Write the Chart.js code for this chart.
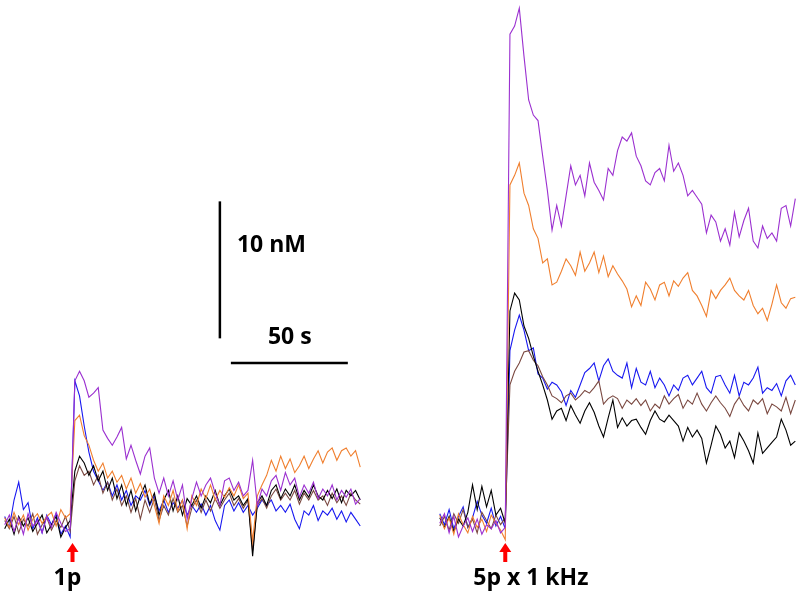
<!DOCTYPE html>
<html>
<head>
<meta charset="utf-8">
<script src="https://cdn.jsdelivr.net/npm/chart.js@4.4.1/dist/chart.umd.min.js"></script>
<style>
  body { margin: 0; background: #fff; }
  #wrap { width: 800px; height: 600px; }
</style>
</head>
<body>
<div id="wrap"><canvas id="traces" width="800" height="600"></canvas></div>
<script>
// time step of the sampled traces (s) and where each panel starts on the shared time axis
const step = 2;
const leftStart = 2;
const rightStart = 188;
const stimTimes = [31, 216];
const stimLabels = ['1p', '5p x 1 kHz'];

// left panel: single pulse (nM above baseline)
const leftPurple = [-0.3, 0.4, -0.8, 0.2, -1.0, 0.5, -0.4, 0.0, -0.9, 0.3, -0.5, 0.6, -0.2, -0.8, -0.6,
  10.2, 10.9, 10.2, 9.0, 9.3, 9.7, 6.6, 6.0, 5.5, 6.1, 6.8, 4.5, 5.5, 4.4, 3.4, 4.7, 5.3, 3.1, 2.0, 3.1,
  1.8, 2.9, 1.5, 2.6, 0.1, 1.6, 2.8, 1.8, 2.6, 3.1, 2.0, 1.1, 2.9, 3.1, 2.2, 2.8, 1.8, 2.2, 4.4, 1.1,
  2.3, 1.8, 2.9, 3.3, 2.2, 3.5, 2.6, 3.1, 1.7, 2.6, 2.0, 2.8, 1.6, 2.3, 1.8, 2.6, 1.5, 2.2, 1.7, 2.3, 1.2, 1.6];
const leftOrange = [0.2, -0.5, 0.6, -0.3, 0.4, -0.7, 0.1, 0.5, -0.2, 0.3, 0.6, -0.4, 0.8, 0.2, 0.5,
  7.3, 7.7, 6.2, 5.5, 4.4, 3.6, 4.2, 3.1, 3.6, 2.8, 3.3, 2.3, 3.1, 2.0, 2.7, 1.7, 2.3, 1.1, -0.2, 1.8,
  1.1, 2.2, 0.7, 1.5, -0.6, 1.8, 1.1, 2.3, 1.6, 2.6, 1.5, 2.2, 1.7, 2.4, 1.8, 2.6, 1.6, 2.0, -1.5, 1.8,
  2.6, 3.3, 4.4, 3.6, 4.7, 3.8, 4.5, 3.5, 4.0, 4.7, 3.8, 4.5, 5.1, 4.2, 5.0, 5.3, 4.4, 5.1, 5.3, 4.7, 5.1, 3.9];
const leftBlack = [-0.6, 0.1, -1.0, 0.3, -0.4, 0.2, -0.8, -0.2, 0.4, -0.9, -0.3, 0.3, -1.2, -0.5, 0.0,
  3.6, 4.7, 4.2, 3.3, 4.0, 2.9, 3.6, 2.2, 3.1, 1.6, 2.6, 1.1, 2.2, 0.7, 1.8, 2.6, 1.2, 2.0, 0.4, 1.5,
  2.2, 0.7, 1.8, 0.4, 1.6, 1.1, 1.8, 0.9, 1.8, 1.3, 2.2, 1.1, 1.8, 2.3, 1.5, 1.8, 1.1, 1.6, -2.6, 1.3,
  1.8, 1.1, 2.2, 2.6, 1.6, 2.3, 1.8, 2.6, 1.5, 2.2, 1.7, 2.6, 1.8, 1.5, 2.2, 1.6, 2.3, 1.3, 2.2, 1.8, 2.2, 1.5];
const leftBrown = [0.0, -0.6, 0.3, -0.9, 0.1, -0.4, 0.5, -1.0, -0.3, 0.2, -0.7, 0.0, -0.5, 0.3, -0.8,
  2.9, 4.0, 3.3, 3.6, 2.6, 3.3, 2.0, 2.8, 1.5, 2.3, 1.1, 1.8, 0.6, 1.6, 0.1, 1.5, 0.6, 1.6, 0.0, 1.1,
  0.4, 1.6, 0.6, 1.1, -0.4, 0.9, 1.5, 0.6, 1.5, 0.7, 1.6, 0.9, 1.5, 2.0, 1.1, 1.6, 0.9, 1.5, -2.2, 1.1,
  1.6, 0.9, 1.8, 2.3, 1.5, 2.0, 1.5, 2.2, 1.2, 2.0, 1.5, 2.2, 1.5, 1.8, 1.1, 2.0, 1.3, 1.8, 1.1, 2.0, 1.5, 1.2];
const leftBlue = [0.3, -0.5, 1.5, 2.8, 0.8, 1.3, -0.6, 0.2, -0.9, 0.4, -0.3, 0.5, -1.0, -0.4, -1.2,
  10.2, 9.1, 6.9, 5.0, 3.6, 2.9, 2.2, 2.8, 1.8, 2.6, 1.5, 2.2, 1.1, 1.8, 1.5, 2.2, 1.1, 1.8, 0.7, 1.5,
  0.6, 1.3, 0.9, 1.5, 0.4, 1.1, 0.6, 1.2, 0.4, 1.1, 0.0, -0.7, 1.1, 1.5, 0.7, 1.3, 0.6, 1.1, 0.4, 0.9,
  1.5, 1.1, 1.5, 0.7, 1.1, 0.6, 1.2, 0.1, -0.6, 0.7, 0.4, 1.1, 0.0, 0.7, 0.4, 0.9, 0.1, 0.7, -0.1, 0.6, 0.1, -0.4];

// right panel: 5 pulses at 1 kHz (nM above baseline)
const rightPurple = [-0.2, 0.5, -0.9, 0.3, -1.2, -0.4, 0.2, -0.8, 0.1, -1.0, -0.3, -0.6, 0.0, -0.9, -0.5,
  35.5, 36.1, 37.4, 33.9, 30.7, 29.6, 29.2, 26.6, 24.1, 21.2, 23.0, 21.5, 23.7, 25.9, 24.5, 25.2, 23.7, 26.1, 24.7, 24.1,
  23.4, 25.7, 25.2, 27.0, 28.0, 27.7, 28.3, 26.6, 25.9, 24.8, 24.5, 25.4, 25.7, 24.8, 27.4, 25.5, 26.1, 25.2, 23.7, 24.1,
  23.6, 23.1, 21.0, 22.3, 21.8, 20.4, 21.3, 20.1, 22.5, 20.7, 21.9, 22.8, 20.4, 19.9, 21.5, 20.6, 21.0, 20.4, 22.8, 23.0, 21.5, 23.5];
const rightOrange = [0.4, -0.6, 0.2, -1.0, 0.5, -0.3, -0.9, 0.3, -0.5, 0.1, -0.8, 0.4, -0.2, -0.7, -1.4,
  24.5, 25.2, 26.1, 23.9, 23.0, 21.3, 20.6, 18.8, 19.1, 17.2, 17.4, 18.2, 19.1, 18.6, 17.9, 19.6, 18.2, 18.8, 19.6, 18.1,
  19.3, 17.8, 18.6, 18.0, 17.5, 16.9, 15.6, 16.4, 15.7, 17.4, 16.9, 16.1, 17.2, 17.4, 16.4, 17.5, 17.1, 17.7, 18.1, 16.8,
  16.4, 15.7, 14.9, 16.8, 16.2, 16.8, 17.2, 17.7, 16.8, 16.4, 16.1, 16.8, 15.7, 15.1, 15.5, 14.6, 15.8, 17.2, 15.9, 15.5, 16.2, 16.3];
const rightBlack = [0.2, -0.5, 0.3, -0.8, 0.1, -0.4, 0.6, 2.6, 0.8, 2.5, 1.0, 2.2, 0.4, 0.9, -0.2,
  15.3, 16.6, 16.1, 14.2, 13.3, 12.0, 10.9, 9.9, 8.8, 7.4, 8.0, 8.2, 7.3, 8.4, 7.7, 7.1, 8.0, 8.6, 7.9, 6.9,
  6.1, 7.5, 8.8, 6.8, 7.5, 6.9, 7.3, 7.4, 6.8, 6.3, 7.3, 8.0, 7.4, 7.2, 7.7, 7.3, 6.9, 5.8, 6.8, 6.1,
  6.6, 6.0, 4.2, 5.5, 6.9, 6.3, 5.3, 5.8, 4.6, 6.4, 5.8, 5.1, 4.2, 6.4, 4.9, 5.3, 5.7, 6.1, 7.4, 6.6, 5.5, 5.8];
const rightBrown = [-0.4, 0.3, -0.7, 0.5, -0.2, 0.8, -0.5, 0.1, -0.9, 0.6, 0.0, -0.6, 0.4, -0.3, 0.2,
  9.9, 10.9, 11.5, 12.3, 12.4, 11.7, 11.3, 10.5, 9.9, 9.1, 8.9, 8.6, 9.1, 9.3, 8.8, 9.1, 9.5, 9.3, 9.7, 10.2,
  8.5, 8.9, 9.1, 8.9, 8.2, 8.8, 8.5, 8.9, 8.4, 8.8, 8.0, 8.5, 8.2, 9.1, 8.5, 8.9, 9.2, 8.2, 8.8, 8.5,
  9.3, 8.5, 8.0, 8.6, 9.1, 8.6, 8.2, 7.6, 8.5, 9.0, 8.4, 8.0, 8.8, 8.5, 8.9, 7.8, 8.5, 8.3, 8.0, 9.0, 7.8, 8.8];
const rightBlue = [0.5, -0.3, 0.8, -0.6, 0.3, 1.0, -0.5, 0.2, 1.4, 0.4, -0.2, 0.9, -0.4, 0.3, -0.6,
  12.4, 13.9, 15.0, 13.9, 12.4, 12.6, 10.7, 10.4, 9.6, 10.1, 9.9, 9.4, 8.4, 9.5, 9.0, 9.9, 10.8, 11.1, 11.5, 10.2,
  11.3, 11.8, 10.9, 10.6, 10.4, 11.5, 9.7, 11.1, 10.1, 9.9, 10.9, 9.7, 10.4, 9.9, 9.1, 9.9, 9.5, 10.4, 10.6, 9.9,
  10.4, 10.9, 9.7, 9.3, 10.5, 10.6, 9.9, 9.3, 10.6, 9.1, 10.1, 9.9, 10.4, 11.2, 9.3, 9.7, 9.5, 10.0, 9.1, 10.2, 10.6, 9.9];

// scale bars: 10 nM and 50 s
const barNM = { t: 94, from: 13.3, to: 23.3 };
const barSec = { level: 11.5, from: 98.7, to: 148.7 };

const colors = {
  purple: '#9b30d0',
  orange: '#f07f2e',
  black: '#000000',
  brown: '#7a4840',
  blue: '#1818f0'
};

function toPoints(values, start) {
  return values.map((v, i) => ({ x: start + i * step, y: v }));
}

function trace(values, start, color) {
  return {
    data: toPoints(values, start),
    borderColor: color,
    borderWidth: 1.1,
    pointRadius: 0,
    tension: 0,
    fill: false
  };
}

// draws the stimulus arrows and the text labels
const annotations = {
  id: 'annotations',
  afterDraw(chart) {
    const {ctx, scales: {x, y}} = chart;
    ctx.save();
    ctx.fillStyle = '#ff0000';
    stimTimes.forEach((t) => {
      const px = x.getPixelForValue(t);
      const top = 543;
      ctx.beginPath();
      ctx.moveTo(px, top);
      ctx.lineTo(px - 6, top + 9);
      ctx.lineTo(px - 2, top + 9);
      ctx.lineTo(px - 2, top + 19);
      ctx.lineTo(px + 2, top + 19);
      ctx.lineTo(px + 2, top + 9);
      ctx.lineTo(px + 6, top + 9);
      ctx.closePath();
      ctx.fill();
    });
    ctx.fillStyle = '#000';
    ctx.font = 'bold 23px "Open Sans", sans-serif';
    ctx.textBaseline = 'middle';
    ctx.textAlign = 'left';
    ctx.fillText(stimLabels[0], x.getPixelForValue(stimTimes[0]) - 19, 578);
    ctx.fillText(stimLabels[1], x.getPixelForValue(stimTimes[1]) - 32, 578);
    ctx.fillText('10 nM', x.getPixelForValue(barNM.t) + 17, y.getPixelForValue(20.1));
    ctx.fillText('50 s', x.getPixelForValue(barSec.from) + 37, y.getPixelForValue(barSec.level) - 26);
    ctx.restore();
  }
};

const ctx = document.getElementById('traces').getContext('2d');
const chart = new Chart(ctx, {
  type: 'line',
  data: {
    datasets: [
      trace(leftPurple, leftStart, colors.purple),
      trace(leftOrange, leftStart, colors.orange),
      trace(leftBlack, leftStart, colors.black),
      trace(leftBrown, leftStart, colors.brown),
      trace(leftBlue, leftStart, colors.blue),
      trace(rightPurple, rightStart, colors.purple),
      trace(rightOrange, rightStart, colors.orange),
      trace(rightBlack, rightStart, colors.black),
      trace(rightBrown, rightStart, colors.brown),
      trace(rightBlue, rightStart, colors.blue),
      {
        data: [{x: barNM.t, y: barNM.from}, {x: barNM.t, y: barNM.to}],
        borderColor: '#000', borderWidth: 2.5, pointRadius: 0
      },
      {
        data: [{x: barSec.from, y: barSec.level}, {x: barSec.to, y: barSec.level}],
        borderColor: '#000', borderWidth: 2.5, pointRadius: 0
      }
    ]
  },
  options: {
    responsive: false,
    animation: false,
    layout: { padding: 0 },
    plugins: {
      legend: { display: false },
      tooltip: { enabled: false }
    },
    scales: {
      x: { type: 'linear', display: false, min: 0, max: 342 },
      y: { type: 'linear', display: false, min: -5.8, max: 38 }
    }
  },
  plugins: [annotations]
});
</script>
</body>
</html>
